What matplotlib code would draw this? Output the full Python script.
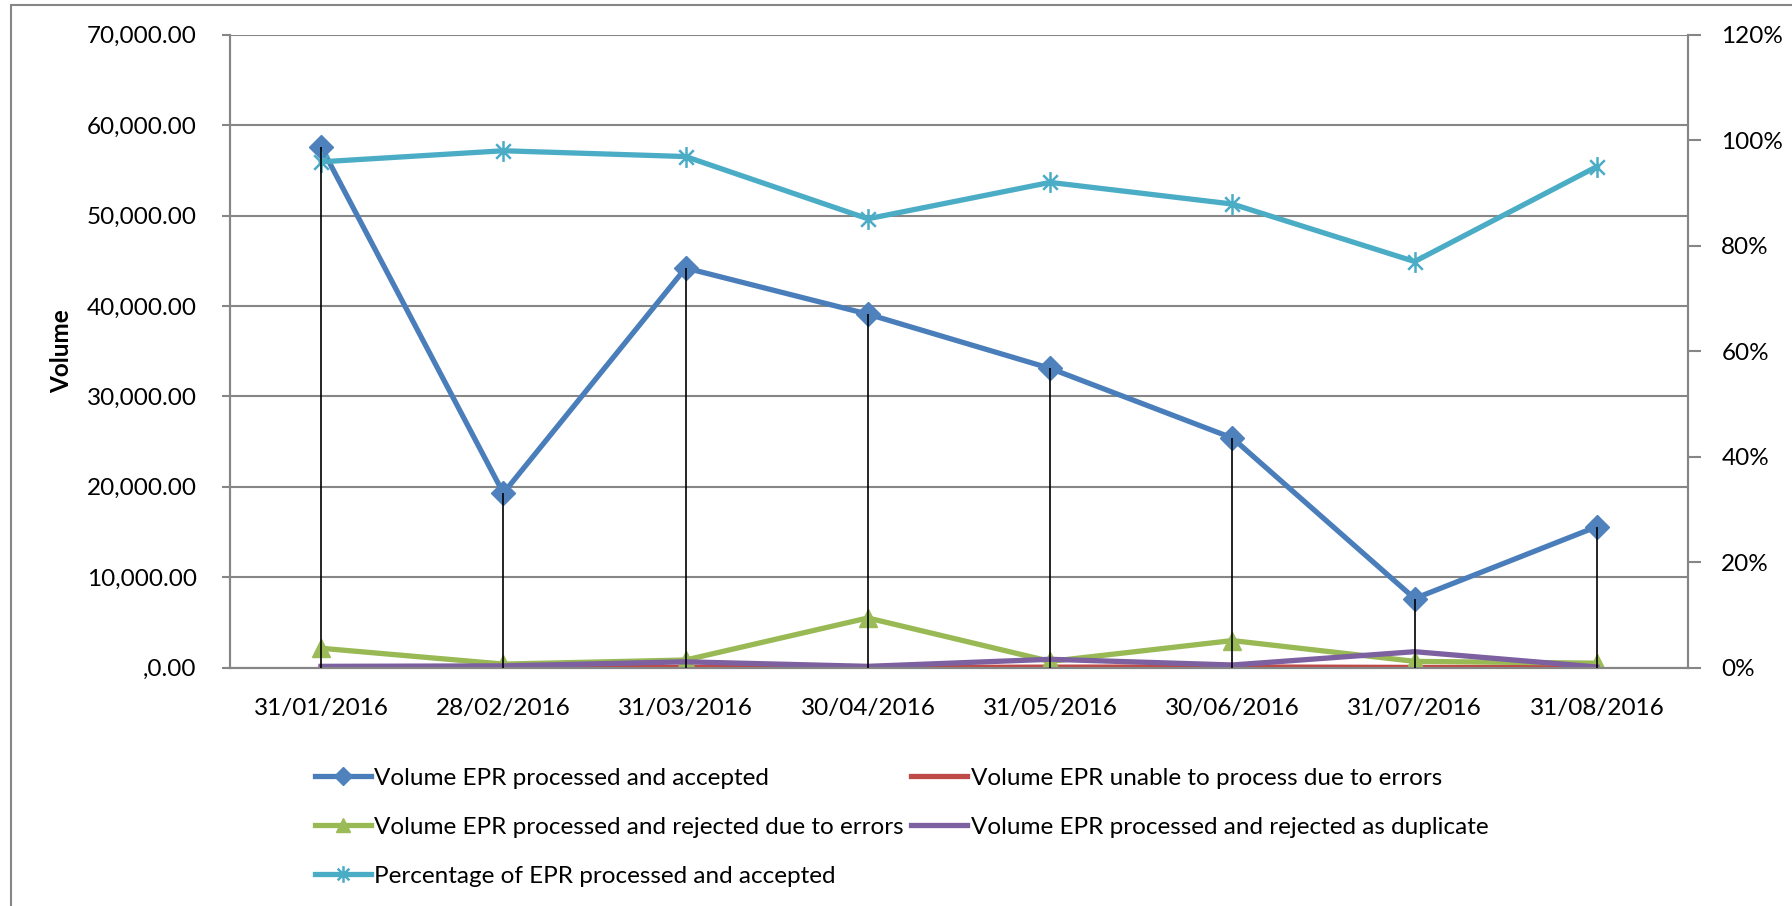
import matplotlib.pyplot as plt
import matplotlib.patches as mpatches
from matplotlib.path import Path
from matplotlib.ticker import FuncFormatter, MultipleLocator

plt.rcParams['font.family'] = ['Lato', 'DejaVu Sans']

# Data
dates = ["31/01/2016", "28/02/2016", "31/03/2016", "30/04/2016",
         "31/05/2016", "30/06/2016", "31/07/2016", "31/08/2016"]
accepted = [57600, 19300, 44200, 39100, 33100, 25400, 7650, 15600]
unable = [30, 20, 40, 20, 60, 80, 30, 10]
rejected_errors = [2150, 400, 850, 5500, 700, 3000, 700, 500]
rejected_dup = [150, 200, 650, 150, 930, 300, 1770, 80]
pct_accepted = [0.959, 0.980, 0.969, 0.851, 0.920, 0.879, 0.770, 0.950]

c_blue = "#4A7EBB"
c_red = "#BE4B48"
c_green = "#98B954"
c_purple = "#7D60A0"
c_cyan = "#4BACC6"
grid_c = "#868686"

# Excel style star marker: vertical bar plus an X
star = Path([(0, -1), (0, 1), (-0.7, -0.7), (0.7, 0.7), (-0.7, 0.7), (0.7, -0.7)],
            [Path.MOVETO, Path.LINETO, Path.MOVETO, Path.LINETO, Path.MOVETO, Path.LINETO])

fig = plt.figure(figsize=(17.92, 9.06), dpi=100)
ax = fig.add_axes([230 / 1792, 1 - 667.7 / 906, (1688 - 230) / 1792, (667.7 - 34.7) / 906])
ax2 = ax.twinx()

x = list(range(len(dates)))
lw = 3.8
fs = 17.5

l1, = ax.plot(x, accepted, color=c_blue, lw=lw, marker="D", markersize=12,
              markerfacecolor="#4F81BD", markeredgecolor="#4F81BD", zorder=3)
l2, = ax.plot(x, unable, color=c_red, lw=lw, zorder=3)
l3, = ax.plot(x, rejected_errors, color=c_green, lw=lw, marker="^", markersize=13,
              markerfacecolor="#9BBB59", markeredgecolor="#9BBB59", zorder=3)
l4, = ax.plot(x, rejected_dup, color=c_purple, lw=lw, zorder=3)
l5, = ax2.plot(x, pct_accepted, color=c_cyan, lw=lw, marker=star, markersize=15,
               markeredgecolor=c_cyan, markerfacecolor="none", markeredgewidth=1.8, zorder=3)

# drop lines from the axis to the accepted volume
ax2.vlines(x, 0, accepted, colors="black", lw=1.2, transform=ax.transData, zorder=4)

ax.set_xlim(-0.5, len(dates) - 0.5)
ax.set_ylim(0, 70000)
ax2.set_ylim(0, 1.2)

ax.yaxis.set_major_locator(MultipleLocator(10000))
ax.yaxis.set_major_formatter(FuncFormatter(lambda v, p: ",0.00" if v == 0 else f"{v:,.2f}"))
ax2.yaxis.set_major_locator(MultipleLocator(0.2))
ax2.yaxis.set_major_formatter(FuncFormatter(lambda v, p: f"{v * 100:.0f}%"))

ax.set_xticks(x)
ax.set_xticklabels(dates)
ax.tick_params(axis="x", length=0, pad=22, labelsize=fs)
ax.tick_params(axis="y", length=6, width=1.5, color=grid_c, pad=18, labelsize=fs)
ax2.tick_params(axis="y", length=9, width=1.5, color=grid_c, pad=15, labelsize=fs)

ax.grid(axis="y", color=grid_c, lw=1.5)
ax.set_axisbelow(True)
for a in (ax, ax2):
    a.spines["top"].set_visible(False)
    for s in ("left", "right", "bottom"):
        a.spines[s].set_color(grid_c)
        a.spines[s].set_linewidth(1.5)

fig.text(62 / 1792, 1 - 351 / 906, "Volume", rotation=90, fontsize=fs,
         fontweight="bold", ha="center", va="center")

# outer chart border
fig.patches.append(mpatches.Rectangle((11 / 1792, -0.1), 1.2, 1 - 5 / 906 + 0.1,
                                      transform=fig.transFigure, fill=False,
                                      edgecolor=grid_c, lw=1.5))

handles = [l1, l3, l5, l2, l4]
labels = ["Volume EPR processed and accepted",
          "Volume EPR processed and rejected due to errors",
          "Percentage of EPR processed and accepted",
          "Volume EPR unable to process due to errors",
          "Volume EPR processed and rejected as duplicate"]
fig.legend(handles, labels, ncol=2, loc="upper left",
           bbox_to_anchor=(293 / 1792, 1 - 746 / 906), frameon=False,
           fontsize=fs, handlelength=2.3, handletextpad=0.15, columnspacing=0.3,
           labelspacing=1.15, markerscale=0.8)

fig.savefig("out.png", dpi=100)
